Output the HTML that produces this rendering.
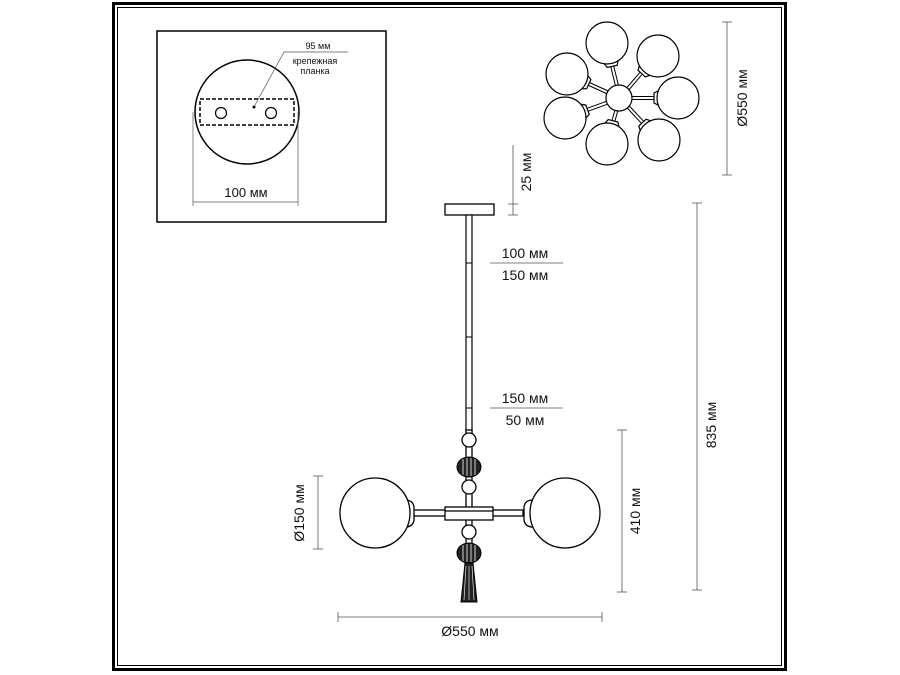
<!DOCTYPE html>
<html><head><meta charset="utf-8"><style>
html,body{margin:0;padding:0;background:#fff}
svg{display:block}
text{font-family:"Liberation Sans",sans-serif;fill:#111}
</style></head><body>
<svg width="900" height="675" viewBox="0 0 900 675" xmlns="http://www.w3.org/2000/svg">
<rect x="113.5" y="3.5" width="672" height="666" fill="none" stroke="#000" stroke-width="3"/>
<rect x="117.5" y="7.5" width="664" height="658" fill="none" stroke="#000" stroke-width="1"/>

<!-- inset -->
<rect x="157" y="31" width="229" height="191" fill="none" stroke="#000" stroke-width="1.5"/>
<circle cx="247" cy="112" r="52" fill="none" stroke="#000" stroke-width="1.5"/>
<rect x="200" y="99" width="94" height="26" fill="none" stroke="#000" stroke-width="1.5" stroke-dasharray="4,2"/>
<circle cx="221" cy="113" r="5.5" fill="none" stroke="#000" stroke-width="1.2"/>
<circle cx="271" cy="113" r="5.5" fill="none" stroke="#000" stroke-width="1.2"/>
<circle cx="254" cy="107" r="1.5" fill="#000"/>
<polyline points="254,107 284,52 348,52" fill="none" stroke="#555" stroke-width="0.7"/>
<text x="318" y="49" font-size="9" text-anchor="middle">95 мм</text>
<text x="315" y="64" font-size="9" text-anchor="middle">крепежная</text>
<text x="315" y="74" font-size="9" text-anchor="middle">планка</text>
<line x1="193" y1="112" x2="193" y2="206" stroke="#555" stroke-width="0.7"/>
<line x1="298" y1="112" x2="298" y2="206" stroke="#555" stroke-width="0.7"/>
<line x1="193" y1="202" x2="298" y2="202" stroke="#555" stroke-width="0.8"/>
<text x="246" y="197" font-size="13" text-anchor="middle">100 мм</text>

<!-- top view flower -->
<g stroke="#000" stroke-width="1.2" fill="#fff">
<g stroke-width="4"><line x1="620" y1="98" x2="607" y2="45"/><line x1="620" y1="98" x2="655" y2="57"/><line x1="620" y1="98" x2="676" y2="98"/><line x1="620" y1="98" x2="657" y2="138"/><line x1="620" y1="98" x2="607" y2="143"/><line x1="620" y1="98" x2="565" y2="118"/><line x1="620" y1="98" x2="567" y2="74"/></g>
<g stroke="#fff" stroke-width="2"><line x1="620" y1="98" x2="607" y2="45"/><line x1="620" y1="98" x2="655" y2="57"/><line x1="620" y1="98" x2="676" y2="98"/><line x1="620" y1="98" x2="657" y2="138"/><line x1="620" y1="98" x2="607" y2="143"/><line x1="620" y1="98" x2="565" y2="118"/><line x1="620" y1="98" x2="567" y2="74"/></g>
<path transform="translate(607,43) rotate(77.7)" d="M18,-8 L24,-5 L24,5 L18,8 Z"/>
<path transform="translate(658,56) rotate(132.9)" d="M18,-8 L24,-5 L24,5 L18,8 Z"/>
<path transform="translate(678,98) rotate(180)" d="M18,-8 L24,-5 L24,5 L18,8 Z"/>
<path transform="translate(659,140) rotate(-133.6)" d="M18,-8 L24,-5 L24,5 L18,8 Z"/>
<path transform="translate(607,144) rotate(-75.4)" d="M18,-8 L24,-5 L24,5 L18,8 Z"/>
<path transform="translate(565,118) rotate(-20.3)" d="M18,-8 L24,-5 L24,5 L18,8 Z"/>
<path transform="translate(567,74) rotate(24.8)" d="M18,-8 L24,-5 L24,5 L18,8 Z"/>
<circle cx="607" cy="43" r="21"/><circle cx="658" cy="56" r="21"/><circle cx="678" cy="98" r="21"/><circle cx="659" cy="140" r="21"/><circle cx="607" cy="144" r="21"/><circle cx="565" cy="118" r="21"/><circle cx="567" cy="74" r="21"/>
<circle cx="619" cy="98" r="13"/>
</g>
<line x1="727" y1="22" x2="727" y2="175" stroke="#555" stroke-width="0.8"/>
<line x1="722" y1="22" x2="732" y2="22" stroke="#555" stroke-width="0.8"/>
<line x1="722" y1="175" x2="732" y2="175" stroke="#555" stroke-width="0.8"/>
<text transform="translate(747,98) rotate(-90)" font-size="14" text-anchor="middle">Ø550 мм</text>

<!-- 25 mm -->
<line x1="513" y1="145" x2="513" y2="215" stroke="#555" stroke-width="0.8"/>
<line x1="508" y1="204" x2="518" y2="204" stroke="#555" stroke-width="0.8"/>
<line x1="508" y1="215" x2="518" y2="215" stroke="#555" stroke-width="0.8"/>
<text transform="translate(531,172) rotate(-90)" font-size="14" text-anchor="middle">25 мм</text>

<!-- ceiling plate & rod -->
<rect x="445" y="204" width="49" height="11" fill="#fff" stroke="#000" stroke-width="1.3"/>
<rect x="466" y="215" width="6" height="218" fill="#fff" stroke="#000" stroke-width="1.2"/>
<g stroke="#000" stroke-width="1"><line x1="466" y1="263" x2="472" y2="263"/><line x1="466" y1="337" x2="472" y2="337"/><line x1="466" y1="408" x2="472" y2="408"/></g>

<text x="525" y="258" font-size="14" text-anchor="middle">100 мм</text>
<line x1="490" y1="263" x2="563" y2="263" stroke="#555" stroke-width="0.8"/>
<text x="525" y="280" font-size="14" text-anchor="middle">150 мм</text>
<text x="525" y="403" font-size="14" text-anchor="middle">150 мм</text>
<line x1="490" y1="408" x2="563" y2="408" stroke="#555" stroke-width="0.8"/>
<text x="525" y="425" font-size="14" text-anchor="middle">50 мм</text>

<!-- arms & globes -->
<g stroke="#000" stroke-width="1.3" fill="#fff">
<rect x="413" y="510" width="110" height="6"/>
<path d="M405,500 Q413,500 414,507 L414,520 Q413,527 405,527 Z"/>
<path d="M533,500 Q525,500 524,507 L524,520 Q525,527 533,527 Z"/>
<circle cx="375" cy="513" r="35"/>
<circle cx="565" cy="513" r="35"/>
<rect x="466" y="430" width="6" height="130"/>
<circle cx="469" cy="440" r="7"/>
<circle cx="469" cy="487" r="7"/>
<circle cx="469" cy="532" r="7"/>
<rect x="445" y="507" width="48" height="13"/>
<line x1="445" y1="511" x2="493" y2="511"/>
</g>
<g stroke="#000" stroke-width="1">
<ellipse cx="469" cy="467" rx="12" ry="10" fill="#222"/>
<g stroke="#fff" stroke-width="0.8"><line x1="463" y1="459" x2="463" y2="475"/><line x1="467" y1="458" x2="467" y2="476"/><line x1="471" y1="458" x2="471" y2="476"/><line x1="475" y1="459" x2="475" y2="475"/></g>
<ellipse cx="469" cy="553" rx="12" ry="10" fill="#222"/>
<g stroke="#fff" stroke-width="0.8"><line x1="463" y1="545" x2="463" y2="561"/><line x1="467" y1="544" x2="467" y2="562"/><line x1="471" y1="544" x2="471" y2="562"/><line x1="475" y1="545" x2="475" y2="561"/></g>
<path d="M465,563 L473,563 L477,602 L461,602 Z" fill="#222"/>
<g stroke="#fff" stroke-width="0.6"><line x1="466" y1="566" x2="464" y2="600"/><line x1="469" y1="566" x2="469" y2="600"/><line x1="472" y1="566" x2="474" y2="600"/></g>
</g>

<!-- dimensions -->
<g stroke="#555" stroke-width="0.8">
<line x1="318" y1="476" x2="318" y2="549"/><line x1="313" y1="476" x2="323" y2="476"/><line x1="313" y1="549" x2="323" y2="549"/>
<line x1="622" y1="430" x2="622" y2="592"/><line x1="617" y1="430" x2="627" y2="430"/><line x1="617" y1="592" x2="627" y2="592"/>
<line x1="697" y1="203" x2="697" y2="590"/><line x1="692" y1="203" x2="702" y2="203"/><line x1="692" y1="590" x2="702" y2="590"/>
<line x1="338" y1="617" x2="602" y2="617"/><line x1="338" y1="612" x2="338" y2="622"/><line x1="602" y1="612" x2="602" y2="622"/>
</g>
<text transform="translate(304,513) rotate(-90)" font-size="14" text-anchor="middle">Ø150 мм</text>
<text transform="translate(640,511) rotate(-90)" font-size="14" text-anchor="middle">410 мм</text>
<text transform="translate(716,425) rotate(-90)" font-size="14" text-anchor="middle">835 мм</text>
<text x="470" y="636" font-size="14" text-anchor="middle">Ø550 мм</text>
</svg>
</body></html>
